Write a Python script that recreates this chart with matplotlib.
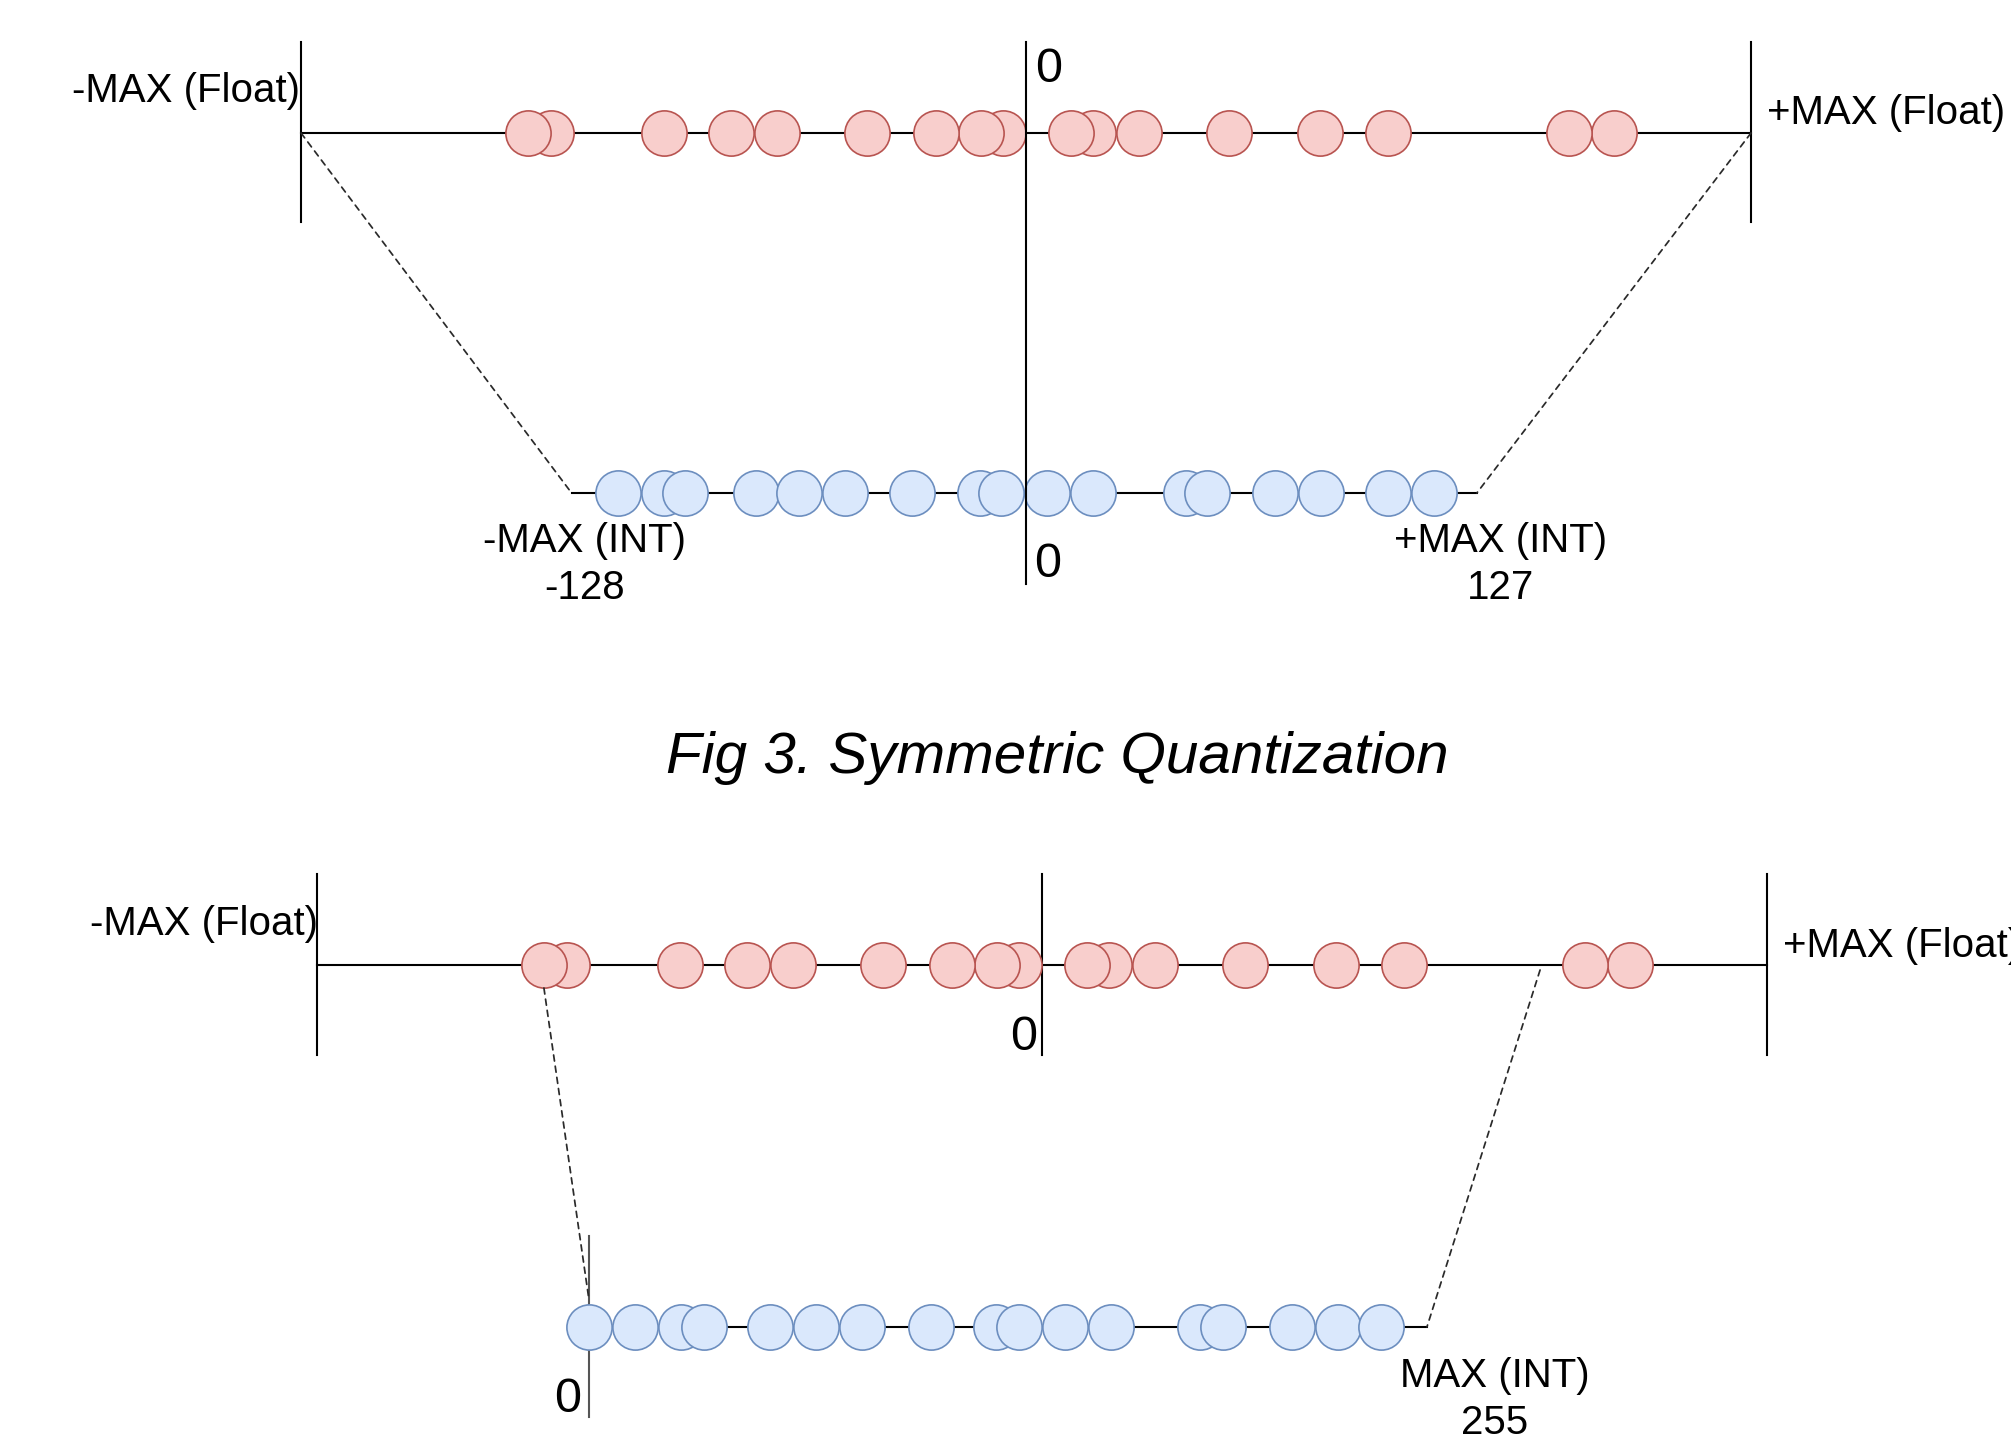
import matplotlib
matplotlib.use("Agg")
import matplotlib.pyplot as plt
from matplotlib.patches import ConnectionPatch

# ---------------- data ----------------
float_values = [-0.687, -0.655, -0.499, -0.407, -0.343, -0.219, -0.124, -0.062, -0.032,
                0.062, 0.092, 0.156, 0.280, 0.405, 0.499, 0.749, 0.811]
int8_values = [-115, -102, -96, -76, -64, -51, -32, -13, -7,
               6, 19, 45, 51, 70, 83, 102, 115]
uint8_values = [0, 14, 28, 35, 55, 69, 83, 104, 124,
                131, 145, 159, 186, 193, 214, 228, 241]
float_range = [-1.0, 1.0]
int8_range = [-128, 127]
uint8_range = [0, 255]
asym_float_range = [-0.687, 0.687]
title = "Fig 3. Symmetric Quantization"

# ---------------- style ----------------
plt.rcParams["font.family"] = ["Liberation Sans", "DejaVu Sans"]
RED_FILL, RED_EDGE = "#f8cecc", "#b85450"
BLUE_FILL, BLUE_EDGE = "#dae8fc", "#6c8ebf"
LW = 1.5
MS = 1060          # marker area (pt^2)
MEW = 1.2
LBL = 29
ZERO = 35
DASH = dict(linestyle=(0, (3.5, 3)), color="#2a2a2a", lw=1.25)

W, H = 2011, 1441
fig = plt.figure(figsize=(W / 100, H / 100), dpi=100)


def line_axes(zero_px, px_per_unit):
    ax = fig.add_axes([0, 0, 1, 1])
    ax.set_xlim(-zero_px / px_per_unit, (W - zero_px) / px_per_unit)
    ax.set_ylim(H, 0)
    ax.axis("off")
    ax.patch.set_alpha(0)
    return ax


canvas = line_axes(0, 1)
axF1 = line_axes(1026, 725)
axI1 = line_axes(1026, 3.55)
axF2 = line_axes(1042, 725)
axI2 = line_axes(589, 3.286)

# ---------------- top: symmetric ----------------
yF1, yI1 = 133, 493
axF1.plot(float_range, [yF1, yF1], color="black", lw=LW, zorder=1)
for v in float_range:
    axF1.plot([v, v], [42, 222], color="black", lw=LW, zorder=1)
# draw right-to-left so the left circle of an overlapping pair sits on top
axF1.scatter(float_values[::-1], [yF1] * len(float_values), s=MS, c=RED_FILL,
             edgecolors=RED_EDGE, linewidths=MEW, zorder=3)

axI1.plot(int8_range, [yI1, yI1], color="black", lw=LW, zorder=1)
axI1.scatter(int8_values, [yI1] * len(int8_values), s=MS, c=BLUE_FILL,
             edgecolors=BLUE_EDGE, linewidths=MEW, zorder=3)
axI1.plot([0, 0], [42, 584], color="black", lw=LW, zorder=5)

for fv, iv in zip(float_range, int8_range):
    con = ConnectionPatch(xyA=(fv, yF1), coordsA=axF1.transData,
                          xyB=(iv, yI1), coordsB=axI1.transData, **DASH)
    fig.add_artist(con)

canvas.text(300, 102, "-MAX (Float)", fontsize=LBL, ha="right", va="baseline")
canvas.text(1767, 124, "+MAX (Float)", fontsize=LBL, ha="left", va="baseline")
canvas.text(1035, 82, "0", fontsize=ZERO, ha="left", va="baseline")
canvas.text(1034, 577, "0", fontsize=ZERO, ha="left", va="baseline")
canvas.text(585, 552, "-MAX (INT)", fontsize=LBL, ha="center", va="baseline")
canvas.text(585, 599, str(int8_range[0]), fontsize=LBL, ha="center", va="baseline")
canvas.text(1501, 552, "+MAX (INT)", fontsize=LBL, ha="center", va="baseline")
canvas.text(1501, 599, str(int8_range[1]), fontsize=LBL, ha="center", va="baseline")

canvas.text(1057, 773, title, fontsize=42, style="italic", ha="center", va="baseline")

# ---------------- bottom: asymmetric ----------------
yF2, yI2 = 965, 1327
axF2.plot(float_range, [yF2, yF2], color="black", lw=LW, zorder=1)
for v in float_range + [0.0]:
    axF2.plot([v, v], [874, 1055], color="black", lw=LW, zorder=1)
axF2.scatter(float_values[::-1], [yF2] * len(float_values), s=MS, c=RED_FILL,
             edgecolors=RED_EDGE, linewidths=MEW, zorder=3)

axI2.plot(uint8_range, [yI2, yI2], color="black", lw=LW, zorder=1)
axI2.plot([0, 0], [1236, 1417], color="#555555", lw=LW, zorder=1)
axI2.scatter(uint8_values, [yI2] * len(uint8_values), s=MS, c=BLUE_FILL,
             edgecolors=BLUE_EDGE, linewidths=MEW, zorder=3)

for fv, fy, iv, iy in zip(asym_float_range, [988, 970], uint8_range, [1300, yI2]):
    con = ConnectionPatch(xyA=(fv, fy), coordsA=axF2.transData,
                          xyB=(iv, iy), coordsB=axI2.transData, **DASH)
    fig.add_artist(con)

canvas.text(318, 935, "-MAX (Float)", fontsize=LBL, ha="right", va="baseline")
canvas.text(1783, 957, "+MAX (Float)", fontsize=LBL, ha="left", va="baseline")
canvas.text(1037, 1050, "0", fontsize=ZERO, ha="right", va="baseline")
canvas.text(581, 1412, "0", fontsize=ZERO, ha="right", va="baseline")
canvas.text(1495, 1387, "MAX (INT)", fontsize=LBL, ha="center", va="baseline")
canvas.text(1495, 1434, str(uint8_range[1]), fontsize=LBL, ha="center", va="baseline")

fig.savefig("out.png", dpi=100, facecolor="white")
